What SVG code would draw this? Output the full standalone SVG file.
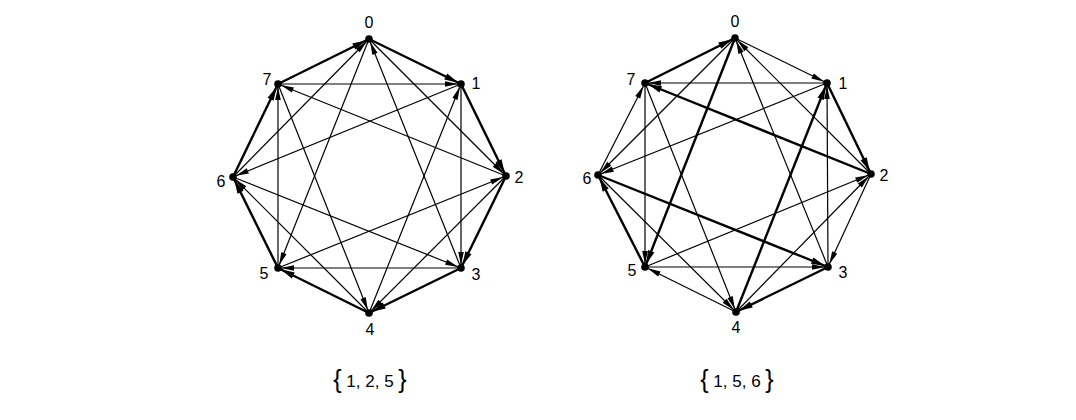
<svg xmlns="http://www.w3.org/2000/svg" width="1076" height="420" viewBox="0 0 1076 420">
<style>
.t{stroke:#000;stroke-width:1.2;fill:none;marker-end:url(#at)}
.k{stroke:#000;stroke-width:2.4;fill:none;marker-end:url(#ak)}
.d{fill:#000}
.lb{font-family:"Liberation Sans",Arial,sans-serif;font-size:16px;fill:#000;text-anchor:middle}
.cap{font-family:"Liberation Sans",Arial,sans-serif;font-size:17px;fill:#000;text-anchor:middle}
.br{font-size:25px}
</style>
<defs>
<marker id="at" markerUnits="userSpaceOnUse" markerWidth="20" markerHeight="10" viewBox="0 -5 20 10" refX="19" refY="0" orient="auto"><path d="M3,-2.8 L16,0 L3,2.8 z" fill="#000"/></marker>
<marker id="ak" markerUnits="userSpaceOnUse" markerWidth="20" markerHeight="10" viewBox="0 -5 20 10" refX="19" refY="0" orient="auto"><path d="M2,-3.4 L16,0 L2,3.4 z" fill="#000"/></marker>
</defs>
<rect width="1076" height="420" fill="#fff"/>
<g id="connectors">
<line class="k" x1="369" y1="39" x2="461" y2="84"/>
<line class="k" x1="461" y1="84" x2="506" y2="176"/>
<line class="k" x1="506" y1="176" x2="461" y2="268"/>
<line class="k" x1="461" y1="268" x2="369" y2="313"/>
<line class="k" x1="369" y1="313" x2="278" y2="268"/>
<line class="k" x1="278" y1="268" x2="233" y2="177"/>
<line class="k" x1="233" y1="177" x2="278" y2="84"/>
<line class="k" x1="278" y1="84" x2="369" y2="39"/>
<line class="t" x1="369" y1="39" x2="506" y2="176"/>
<line class="t" x1="461" y1="84" x2="461" y2="268"/>
<line class="t" x1="506" y1="176" x2="369" y2="313"/>
<line class="t" x1="461" y1="268" x2="278" y2="268"/>
<line class="t" x1="369" y1="313" x2="233" y2="177"/>
<line class="t" x1="278" y1="268" x2="278" y2="84"/>
<line class="t" x1="233" y1="177" x2="369" y2="39"/>
<line class="t" x1="278" y1="84" x2="461" y2="84"/>
<line class="t" x1="369" y1="39" x2="278" y2="268"/>
<line class="t" x1="461" y1="84" x2="233" y2="177"/>
<line class="t" x1="506" y1="176" x2="278" y2="84"/>
<line class="t" x1="461" y1="268" x2="369" y2="39"/>
<line class="t" x1="369" y1="313" x2="461" y2="84"/>
<line class="t" x1="278" y1="268" x2="506" y2="176"/>
<line class="t" x1="233" y1="177" x2="461" y2="268"/>
<line class="t" x1="278" y1="84" x2="369" y2="313"/>

<line class="t" x1="735" y1="38" x2="827" y2="83"/>
<line class="k" x1="827" y1="83" x2="871" y2="174"/>
<line class="t" x1="871" y1="174" x2="828" y2="267"/>
<line class="k" x1="828" y1="267" x2="736" y2="312"/>
<line class="t" x1="736" y1="312" x2="645" y2="267"/>
<line class="k" x1="645" y1="267" x2="598" y2="175"/>
<line class="t" x1="598" y1="175" x2="645" y2="83"/>
<line class="k" x1="645" y1="83" x2="735" y2="38"/>
<line class="t" x1="735" y1="38" x2="598" y2="175"/>
<line class="t" x1="827" y1="83" x2="645" y2="83"/>
<line class="t" x1="871" y1="174" x2="735" y2="38"/>
<line class="t" x1="828" y1="267" x2="827" y2="83"/>
<line class="t" x1="736" y1="312" x2="871" y2="174"/>
<line class="t" x1="645" y1="267" x2="828" y2="267"/>
<line class="t" x1="598" y1="175" x2="736" y2="312"/>
<line class="t" x1="645" y1="83" x2="645" y2="267"/>
<line class="k" x1="735" y1="38" x2="645" y2="267"/>
<line class="t" x1="827" y1="83" x2="598" y2="175"/>
<line class="k" x1="871" y1="174" x2="645" y2="83"/>
<line class="t" x1="828" y1="267" x2="735" y2="38"/>
<line class="k" x1="736" y1="312" x2="827" y2="83"/>
<line class="t" x1="645" y1="267" x2="871" y2="174"/>
<line class="k" x1="598" y1="175" x2="828" y2="267"/>
<line class="t" x1="645" y1="83" x2="736" y2="312"/>
</g>
<g id="L0"><circle class="d" cx="369" cy="39" r="3.8"/><text class="lb" x="369" y="28">0</text></g>
<g id="L1"><circle class="d" cx="461" cy="84" r="3.8"/><text class="lb" x="476" y="89">1</text></g>
<g id="L2"><circle class="d" cx="506" cy="176" r="3.8"/><text class="lb" x="519" y="183">2</text></g>
<g id="L3"><circle class="d" cx="461" cy="268" r="3.8"/><text class="lb" x="476" y="280">3</text></g>
<g id="L4"><circle class="d" cx="369" cy="313" r="3.8"/><text class="lb" x="370" y="335">4</text></g>
<g id="L5"><circle class="d" cx="278" cy="268" r="3.8"/><text class="lb" x="264" y="279">5</text></g>
<g id="L6"><circle class="d" cx="233" cy="177" r="3.8"/><text class="lb" x="221" y="187">6</text></g>
<g id="L7"><circle class="d" cx="278" cy="84" r="3.8"/><text class="lb" x="267" y="85">7</text></g>
<g id="R0"><circle class="d" cx="735" cy="38" r="3.8"/><text class="lb" x="735" y="27">0</text></g>
<g id="R1"><circle class="d" cx="827" cy="83" r="3.8"/><text class="lb" x="843" y="89">1</text></g>
<g id="R2"><circle class="d" cx="871" cy="174" r="3.8"/><text class="lb" x="884" y="181">2</text></g>
<g id="R3"><circle class="d" cx="828" cy="267" r="3.8"/><text class="lb" x="843" y="278">3</text></g>
<g id="R4"><circle class="d" cx="736" cy="312" r="3.8"/><text class="lb" x="736" y="333">4</text></g>
<g id="R5"><circle class="d" cx="645" cy="267" r="3.8"/><text class="lb" x="632" y="276">5</text></g>
<g id="R6"><circle class="d" cx="598" cy="175" r="3.8"/><text class="lb" x="587" y="184">6</text></g>
<g id="R7"><circle class="d" cx="645" cy="83" r="3.8"/><text class="lb" x="631" y="85">7</text></g>
<text class="cap" x="370" y="387"><tspan class="br" dy="1">{</tspan><tspan dy="-1"> 1, 2, 5 </tspan><tspan class="br" dy="1">}</tspan></text>
<text class="cap" x="737" y="387"><tspan class="br" dy="1">{</tspan><tspan dy="-1"> 1, 5, 6 </tspan><tspan class="br" dy="1">}</tspan></text>
</svg>
